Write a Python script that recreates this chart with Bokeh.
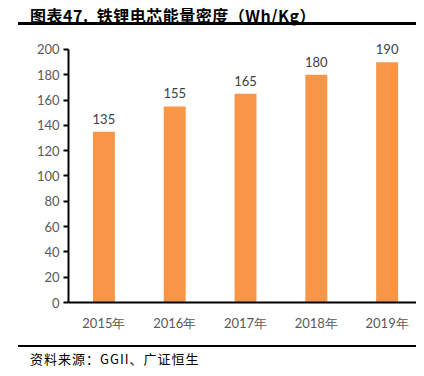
from bokeh.plotting import figure
from bokeh.models import ColumnDataSource, LabelSet, Div, FixedTicker, Range1d
from bokeh.core.properties import value
from bokeh.layouts import column
from bokeh.embed import file_html
from bokeh.resources import INLINE

years = ["2015年", "2016年", "2017年", "2018年", "2019年"]
density = [135, 155, 165, 180, 190]
y_ticks = [0, 20, 40, 60, 80, 100, 120, 140, 160, 180, 200]

xs = [i + 0.5 for i in range(len(years))]
src = ColumnDataSource(dict(x=xs, y=density, lbl=[str(v) for v in density]))

title = Div(text="图表47.&nbsp;&nbsp;铁锂电芯能量密度（Wh/Kg）", width=398, height=20,
            styles={"margin-left": "18px", "font-family": "Noto Sans CJK SC", "font-weight": "bold",
                    "font-size": "16px", "color": "#000000", "padding-left": "12px",
                    "letter-spacing": "0.5px",
                    "border-bottom": "3px solid #000000", "line-height": "20px"})

p = figure(width=416, height=310, output_backend="svg", toolbar_location=None,
           x_range=Range1d(0, 4.915), y_range=Range1d(0, 215),
           min_border_left=68, min_border_right=0, min_border_top=0, min_border_bottom=38)
p.vbar(x="x", top="y", width=0.31, source=src, color="#F79646", line_color=None)
p.add_layout(LabelSet(x="x", y="y", text="lbl", source=src, text_align="center",
                      text_baseline="bottom", y_offset=8, text_font=value("Lato"),
                      text_font_size="13px", text_color="#404040"))

p.xgrid.visible = False
p.ygrid.visible = False
p.outline_line_color = None

p.yaxis.ticker = FixedTicker(ticks=y_ticks)
p.yaxis.bounds = (0, 200)
p.yaxis.axis_line_width = 2
p.yaxis.axis_line_color = "#000000"
p.yaxis.major_tick_out = 5
p.yaxis.major_tick_in = 0
p.yaxis.major_tick_line_width = 2
p.yaxis.minor_tick_line_color = None
p.yaxis.major_label_text_font = "Lato"
p.yaxis.major_label_text_font_size = "13px"
p.yaxis.major_label_text_color = "#595959"
p.yaxis.major_label_standoff = 4

p.xaxis.ticker = FixedTicker(ticks=xs)
p.xaxis.major_label_overrides = {x: y for x, y in zip(xs, years)}
p.xaxis.axis_line_width = 2
p.xaxis.axis_line_color = "#000000"
p.xaxis.major_tick_out = 0
p.xaxis.major_tick_in = 0
p.xaxis.minor_tick_line_color = None
p.xaxis.major_label_text_font = "Lato"
p.xaxis.major_label_text_font_size = "13px"
p.xaxis.major_label_text_color = "#595959"
p.xaxis.major_label_standoff = 12

source = Div(text="资料来源：GGII、广证恒生", width=398, height=22,
             styles={"margin-left": "18px", "font-family": "Noto Sans CJK SC",
                     "font-size": "13px", "color": "#000000", "padding-left": "12px",
                     "letter-spacing": "1px",
                     "border-top": "2px solid #000000", "line-height": "24px"})

layout = column(title, p, source, spacing=0)
open("out.html", "w").write(file_html(layout, INLINE))
